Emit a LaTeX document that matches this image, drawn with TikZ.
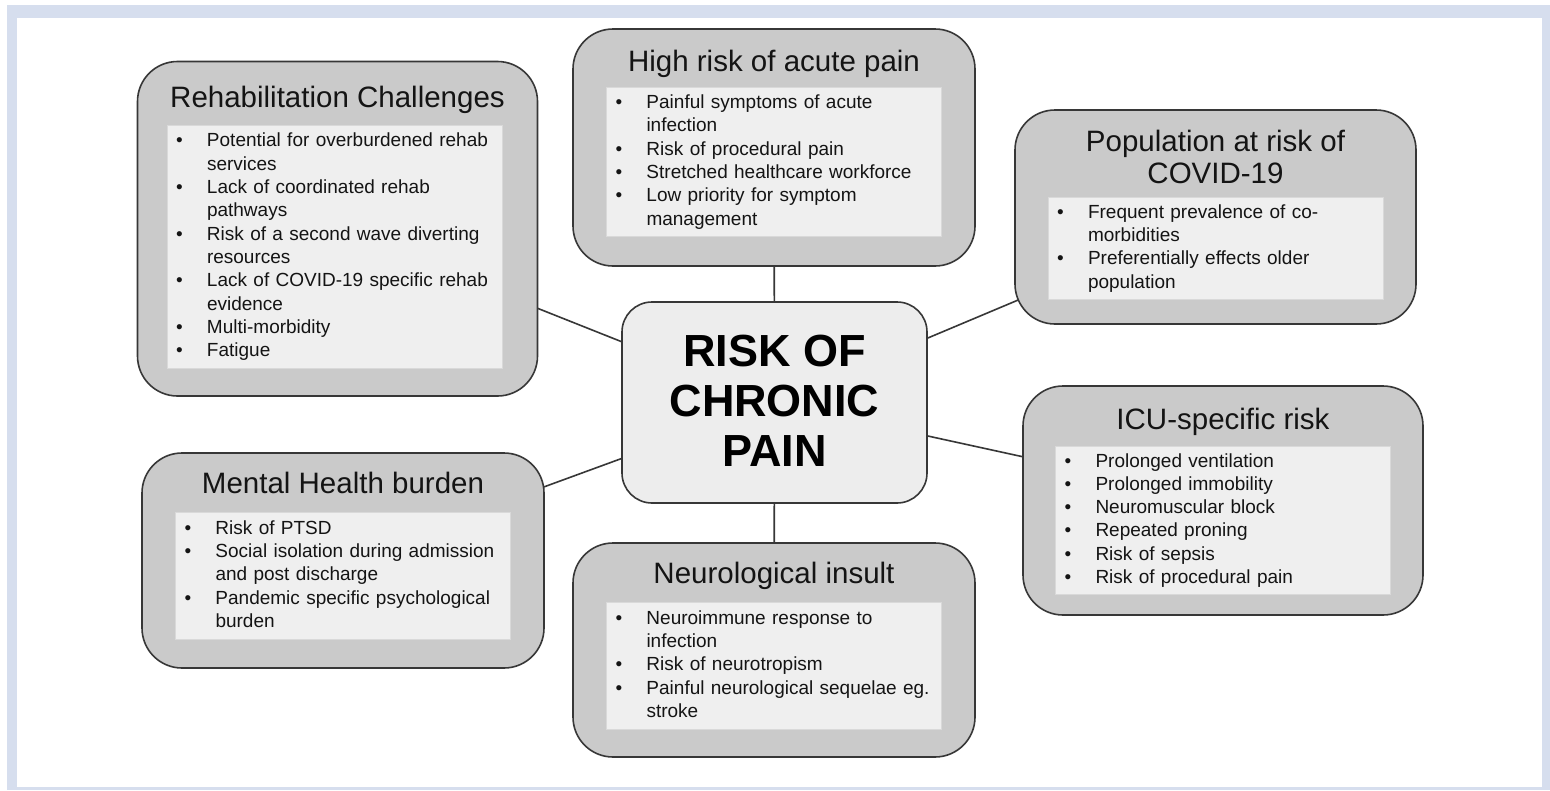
\documentclass[tikz,border=0pt]{standalone}
\usepackage{fontspec}
\setmainfont{Liberation Sans}
\usetikzlibrary{positioning, backgrounds}

\definecolor{framebg}{RGB}{214,222,238}
\definecolor{zonegray}{RGB}{202,202,202}
\definecolor{listgray}{RGB}{239,239,239}
\definecolor{hubgray}{RGB}{237,237,237}
\definecolor{edgegray}{RGB}{55,55,55}
\definecolor{inkgray}{RGB}{20,20,20}

\newcommand{\bl}[1]{\strut\hspace*{9pt}\makebox[31pt][l]{\textbullet}#1}
\newcommand{\cl}[1]{\strut\hspace*{40pt}#1}

\begin{document}
\begin{tikzpicture}[
    x=1pt,
    y=-1pt,
    zone/.style={draw=edgegray, line width=1.6pt, fill=zonegray, rounded corners=40pt},
    heading/.style={text=inkgray, font=\fontsize{29.5}{32}\selectfont, align=center, inner sep=0pt},
    items/.style={draw=black!15, line width=0.8pt, fill=listgray, text=inkgray, text width=335pt,
        inner xsep=0pt, inner ysep=0pt, align=left, font=\fontsize{19}{23.3}\selectfont},
    hub/.style={draw=edgegray, line width=1.6pt, fill=hubgray, rounded corners=30pt, text=black,
        minimum width=305pt, minimum height=201pt, align=center, text depth=4pt,
        font=\fontsize{45}{50}\selectfont\bfseries},
    link/.style={draw=edgegray, line width=1.6pt},
]

    \useasboundingbox (0,0) rectangle (1550,790);

    \node[hub] (hub) at (774.5,402.5) {RISK OF\\CHRONIC\\PAIN};

    \node[zone, minimum width=400pt, minimum height=334.5pt] (rehab)  at (337.5,228.75) {};
    \node[zone, minimum width=402pt, minimum height=237pt]   (acute)  at (774,147.5)    {};
    \node[zone, minimum width=401pt, minimum height=214pt]   (popn)   at (1215.5,217)   {};
    \node[zone, minimum width=400pt, minimum height=229pt]   (icu)    at (1223,500.5)   {};
    \node[zone, minimum width=402pt, minimum height=215pt]   (mental) at (343,560.5)    {};
    \node[zone, minimum width=402pt, minimum height=214pt]   (neuro)  at (774,650)      {};

    \node[heading, below=46.5pt of rehab.north, anchor=base]  (rehab-t)  {Rehabilitation Challenges};
    \node[heading, below=43pt of acute.north, anchor=base]    (acute-t)  {High risk of acute pain};
    \node[heading, below=74pt of popn.north, anchor=base]     (popn-t)   {Population at risk of\\COVID-19};
    \node[heading, below=44pt of icu.north, anchor=base]      (icu-t)    {ICU-specific risk};
    \node[heading, below=41pt of mental.north, anchor=base]   (mental-t) {Mental Health burden};
    \node[heading, below=41pt of neuro.north, anchor=base]    (neuro-t)  {Neurological insult};

    \node[items, minimum height=243pt, below=64.5pt of rehab.north, xshift=-3pt] (rehab-l) {
        \bl{Potential for overburdened rehab}\\
        \cl{services}\\
        \bl{Lack of coordinated rehab}\\
        \cl{pathways}\\
        \bl{Risk of a second wave diverting}\\
        \cl{resources}\\
        \bl{Lack of COVID-19 specific rehab}\\
        \cl{evidence}\\
        \bl{Multi-morbidity}\\
        \bl{Fatigue}};
    \node[items, minimum height=149pt, below=59pt of acute.north] (acute-l) {
        \bl{Painful symptoms of acute}\\
        \cl{infection}\\
        \bl{Risk of procedural pain}\\
        \bl{Stretched healthcare workforce}\\
        \bl{Low priority for symptom}\\
        \cl{management}};
    \node[items, minimum height=102pt, below=88pt of popn.north] (popn-l) {
        \bl{Frequent prevalence of co-}\\
        \cl{morbidities}\\
        \bl{Preferentially effects older}\\
        \cl{population}};
    \node[items, minimum height=148pt, below=61pt of icu.north] (icu-l) {
        \bl{Prolonged ventilation}\\
        \bl{Prolonged immobility}\\
        \bl{Neuromuscular block}\\
        \bl{Repeated proning}\\
        \bl{Risk of sepsis}\\
        \bl{Risk of procedural pain}};
    \node[items, minimum height=127pt, below=60pt of mental.north] (mental-l) {
        \bl{Risk of PTSD}\\
        \bl{Social isolation during admission}\\
        \cl{and post discharge}\\
        \bl{Pandemic specific psychological}\\
        \cl{burden}};
    \node[items, minimum height=127pt, below=60pt of neuro.north] (neuro-l) {
        \bl{Neuroimmune response to}\\
        \cl{infection}\\
        \bl{Risk of neurotropism}\\
        \bl{Painful neurological sequelae eg.}\\
        \cl{stroke}};

    \begin{scope}[on background layer]
        \fill[white] (0,0) rectangle (1550,790);
        \fill[framebg] (7,5) rectangle (1550,790);
        \fill[white] (17,18) rectangle (1542,787);
        \path
            (rehab.center)  edge[link] (hub.center)
            (acute.center)  edge[link] (hub.center)
            (popn.center)   edge[link] (hub.center)
            (icu.center)    edge[link] (hub.center)
            (mental.center) edge[link] (hub.center)
            (neuro.center)  edge[link] (hub.center)
        ;
    \end{scope}
\end{tikzpicture}
\end{document}
